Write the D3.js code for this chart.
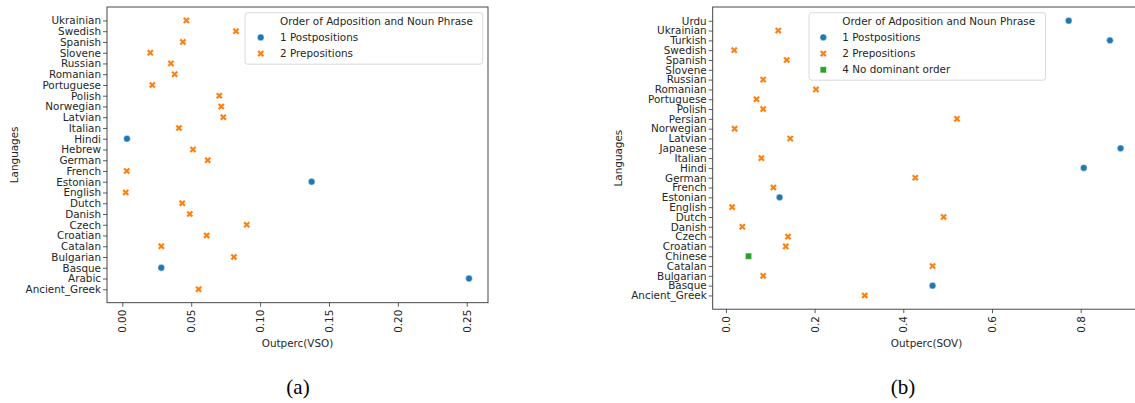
<!DOCTYPE html>
<html><head><meta charset="utf-8">
<script src="https://cdn.jsdelivr.net/npm/d3@7"></script>
<style>
body{margin:0;background:#fff;}
svg{display:block;font-family:"DejaVu Sans",sans-serif;}
</style></head>
<body><svg id="c" width="1135" height="403"></svg>
<script>
// ---------- Data ----------
const legendTitle = "Order of Adposition and Noun Phrase";
const groupNames = ["1 Postpositions","2 Prepositions","4 No dominant order"];
const groupColors = ["#1f77b4","#ff7f0e","#2ca02c"];

// Panel (a): VSO
const langsA = ["Ukrainian","Swedish","Spanish","Slovene","Russian","Romanian","Portuguese","Polish","Norwegian","Latvian","Italian","Hindi","Hebrew","German","French","Estonian","English","Dutch","Danish","Czech","Croatian","Catalan","Bulgarian","Basque","Arabic","Ancient_Greek"];
const valsA   = [0.0465,0.0825,0.044,0.0203,0.0353,0.038,0.0218,0.0704,0.0718,0.0733,0.0411,0.0034,0.0513,0.062,0.0032,0.1374,0.0025,0.0435,0.049,0.0903,0.0612,0.0283,0.081,0.0283,0.2516,0.0554];
const groupA  = [2,2,2,2,2,2,2,2,2,2,2,1,2,2,2,1,2,2,2,2,2,2,2,1,1,2];
const ticksA = [0,0.05,0.10,0.15,0.20,0.25];

// Panel (b): SOV
const langsB = ["Urdu","Ukrainian","Turkish","Swedish","Spanish","Slovene","Russian","Romanian","Portuguese","Polish","Persian","Norwegian","Latvian","Japanese","Italian","Hindi","German","French","Estonian","English","Dutch","Danish","Czech","Croatian","Chinese","Catalan","Bulgarian","Basque","Ancient_Greek"];
const valsB   = [0.773,0.118,0.866,0.0188,0.137,null,0.084,0.203,0.069,0.084,0.521,0.0196,0.145,0.890,0.080,0.807,0.427,0.107,0.121,0.014,0.491,0.037,0.140,0.135,0.051,0.466,0.084,0.466,0.313];
const groupB  = [1,2,1,2,2,2,2,2,2,2,2,2,2,1,2,1,2,2,1,2,2,2,2,2,4,2,2,1,2];
const ticksB = [0,0.2,0.4,0.6,0.8];

const svg = d3.select("#c");
const FS = 10.4;

function marker(sel, g, cx, cy){
  if(g===1){
    sel.append("path").attr("d", d3.symbol(d3.symbolCircle, 36)())
      .attr("transform",`translate(${cx},${cy})`).attr("fill",groupColors[0]).attr("stroke","#fff").attr("stroke-width",0.5);
  } else if(g===2){
    sel.append("path").attr("d", d3.symbol(d3.symbolCross, 32)())
      .attr("transform",`translate(${cx},${cy}) rotate(45)`).attr("fill",groupColors[1]).attr("stroke","#fff").attr("stroke-width",0.5);
  } else {
    sel.append("path").attr("d", d3.symbol(d3.symbolSquare, 40)())
      .attr("transform",`translate(${cx},${cy})`).attr("fill",groupColors[2]).attr("stroke","#fff").attr("stroke-width",0.5);
  }
}

function panel(cfg){
  const g = svg.append("g");
  const x = d3.scaleLinear().domain(cfg.xdom).range([cfg.left, cfg.right]);
  const y = d3.scalePoint().domain(cfg.langs).range([cfg.top, cfg.bottom]).padding(cfg.pad);

  const pts = g.append("g");
  cfg.langs.forEach((l,i)=>{
    if(cfg.vals[i]==null) return;
    marker(pts, cfg.groups[i], x(cfg.vals[i]), y(l));
  });

  const ya = g.append("g").attr("transform",`translate(${cfg.left},0)`)
    .call(d3.axisLeft(y).tickSize(4).tickPadding(2));
  ya.select(".domain").remove();
  ya.selectAll("text").attr("font-size",FS).attr("font-family","DejaVu Sans").attr("fill","#262626");
  ya.selectAll("line").attr("stroke","#333").attr("stroke-width",0.8);

  const xa = g.append("g").attr("transform",`translate(0,${cfg.bottom})`)
    .call(d3.axisBottom(x).tickValues(cfg.ticks).tickFormat(d3.format(cfg.fmt)).tickSize(4).tickPadding(3));
  xa.select(".domain").remove();
  xa.selectAll("line").attr("stroke","#333").attr("stroke-width",0.8);
  xa.selectAll("text").attr("font-size",FS).attr("font-family","DejaVu Sans").attr("fill","#262626")
    .attr("transform","rotate(-90)").attr("text-anchor","end").attr("dy","0.35em").attr("x",-7).attr("y",0);

  g.append("rect").attr("x",cfg.left).attr("y",cfg.top).attr("width",cfg.right-cfg.left).attr("height",cfg.bottom-cfg.top)
    .attr("fill","none").attr("stroke","#333").attr("stroke-width",0.9);

  g.append("text").attr("x",cfg.xlabX).attr("y",cfg.xlabY).attr("text-anchor","middle")
    .attr("font-size",FS).attr("fill","#262626").text(cfg.xlabel);
  g.append("text").attr("transform",`translate(${cfg.ylabX},${(cfg.top+cfg.bottom)/2}) rotate(-90)`)
    .attr("text-anchor","middle").attr("font-size",FS).attr("fill","#262626").text("Languages");

  const L = cfg.legend;
  const lg = g.append("g");
  lg.append("rect").attr("x",L.x).attr("y",L.y).attr("width",L.w).attr("height",L.h).attr("rx",2.5)
    .attr("fill","#fff").attr("fill-opacity",0.8).attr("stroke","#d0d0d0").attr("stroke-width",0.8);
  lg.append("text").attr("x",L.tx).attr("y",L.y+8.5).attr("dy","0.35em").attr("font-size",FS).attr("fill","#262626").text(legendTitle);
  cfg.legGroups.forEach((gi,k)=>{
    const cy = L.y+8.5+(k+1)*L.step;
    marker(lg, gi, L.mx, cy);
    lg.append("text").attr("x",L.tx).attr("y",cy).attr("dy","0.35em").attr("font-size",FS).attr("fill","#262626")
      .text(groupNames[[1,2,4].indexOf(gi)]);
  });

  svg.append("text").attr("x",cfg.capX).attr("y",394).attr("text-anchor","middle")
    .attr("font-family","'Liberation Serif',serif").attr("font-size",21).attr("fill","#000").text(cfg.caption);
}

panel({langs:langsA, vals:valsA, groups:groupA, ticks:ticksA, fmt:".2f",
  xdom:[-0.0111,0.2654], left:107, right:488, top:7, bottom:302.7, pad:1.25,
  xlabel:"Outperc(VSO)", xlabX:297.5, xlabY:347, ylabX:18, caption:"(a)", capX:298,
  legend:{x:245,y:12.7,w:237.7,h:51.5,tx:280,mx:260.7,step:16.2}, legGroups:[1,2]});

panel({langs:langsB, vals:valsB, groups:groupB, ticks:ticksB, fmt:".1f",
  xdom:[-0.0298,0.9338], left:712.7, right:1140, top:7, bottom:309.2, pad:1.4,
  xlabel:"Outperc(SOV)", xlabX:926.5, xlabY:347, ylabX:622, caption:"(b)", capX:903,
  legend:{x:809,y:12.7,w:236.5,h:67.5,tx:842.3,mx:823.3,step:16.2}, legGroups:[1,2,4]});
</script></body></html>
